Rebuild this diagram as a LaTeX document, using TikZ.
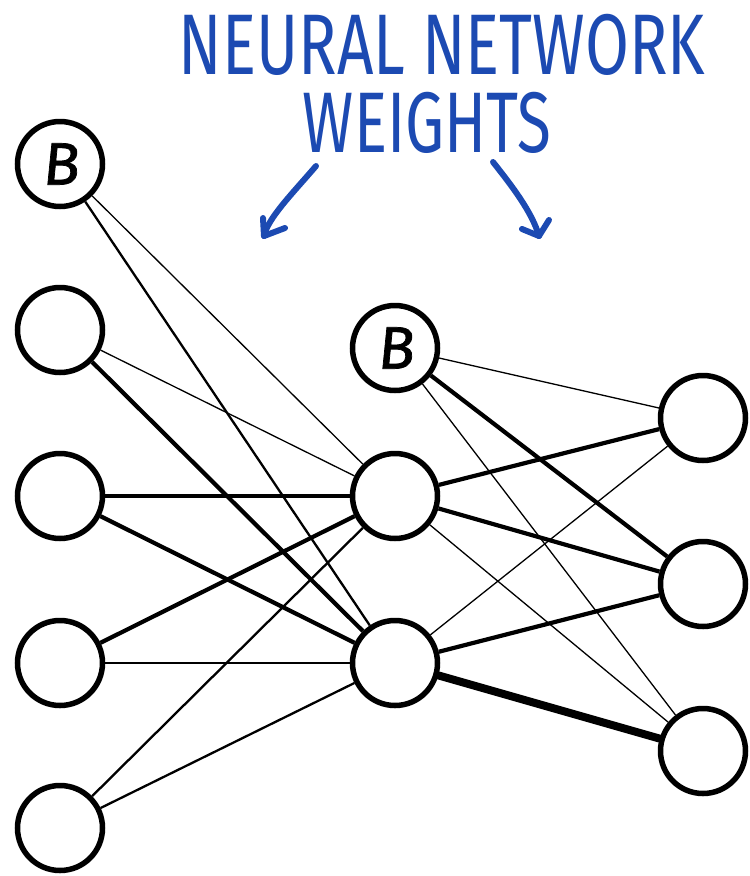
\documentclass[tikz,border=0pt]{standalone}
\usepackage{fontspec}
\setmainfont{Fira Sans}
\newfontfamily\bfont[FakeSlant=0.1,FakeBold=1.2]{Fira Sans}
\definecolor{inkblue}{RGB}{28,74,178}
\begin{document}
\begin{tikzpicture}[x=1pt,y=-1pt,
  neuron/.style={circle,draw=black,line width=5.5pt,minimum size=85pt,inner sep=0pt,fill=white},
  blab/.style={font=\bfont\fontsize{60}{60}\selectfont},
  wthin/.style={line width=1.3pt},
  wmed/.style={line width=2.3pt},
  wthick/.style={line width=4.2pt},
  wheavy/.style={line width=8pt,line cap=round},
  title/.style={text=inkblue,inner sep=0pt,font=\fontsize{86}{86}\selectfont},
  hand/.style={draw=inkblue,line width=6pt,line cap=round,line join=round}]
\useasboundingbox (0,0) rectangle (750,876);
% nodes
\node[neuron] (L0) at (60,164) {};
\node[neuron] (L1) at (60,330) {};
\node[neuron] (L2) at (60,496) {};
\node[neuron] (L3) at (60,663) {};
\node[neuron] (L4) at (60,828) {};
\node[neuron] (MB) at (395,348) {};
\node[neuron] (M1) at (395,496) {};
\node[neuron] (M2) at (395,663) {};
\node[neuron] (R1) at (703,418) {};
\node[neuron] (R2) at (703,584) {};
\node[neuron] (R3) at (703,751) {};
\node[blab] (LB) at (L0) {B};
\node[blab] (MBt) at (MB) {B};
% edges
\draw[wthin] (L0) -- (M1);
\draw[wmed] (L0) -- (M2);
\draw[wthin] (L1) -- (M1);
\draw[wthick] (L1) -- (M2);
\draw[wthick] (L2) -- (M1);
\draw[wthick] (L2) -- (M2);
\draw[wthick] (L3) -- (M1);
\draw[wmed] (L3) -- (M2);
\draw[wmed] (L4) -- (M1);
\draw[wmed] (L4) -- (M2);
\draw[wthin] (MB) -- (R1);
\draw[wthick] (MB) -- (R2);
\draw[wthin] (MB) -- (R3);
\draw[wthick] (M1) -- (R1);
\draw[wthick] (M1) -- (R2);
\draw[wthin] (M1) -- (R3);
\draw[wthin] (M2) -- (R1);
\draw[wthick] (M2) -- (R2);
\draw[wheavy] (M2) -- (R3);
% title
\node[title] (t1) at (442,45) {\scalebox{0.74}[1]{NEURAL NETWORK}};
\node[title] (t2) at (427,123) {\scalebox{0.72}[1]{WEIGHTS}};
% arrows
\coordinate (a1s) at (316,166);
\coordinate (a1e) at (264,236);
\coordinate (a2s) at (493,162);
\coordinate (a2e) at (539,236);
\draw[hand] (a1s) .. controls (292,194) and (268,218) .. (a1e);
\draw[hand] (263,218) -- (a1e) -- (285,228);
\draw[hand] (a2s) .. controls (512,186) and (532,212) .. (a2e);
\draw[hand] (522,229) -- (a2e) -- (549,220);
\end{tikzpicture}
\end{document}
